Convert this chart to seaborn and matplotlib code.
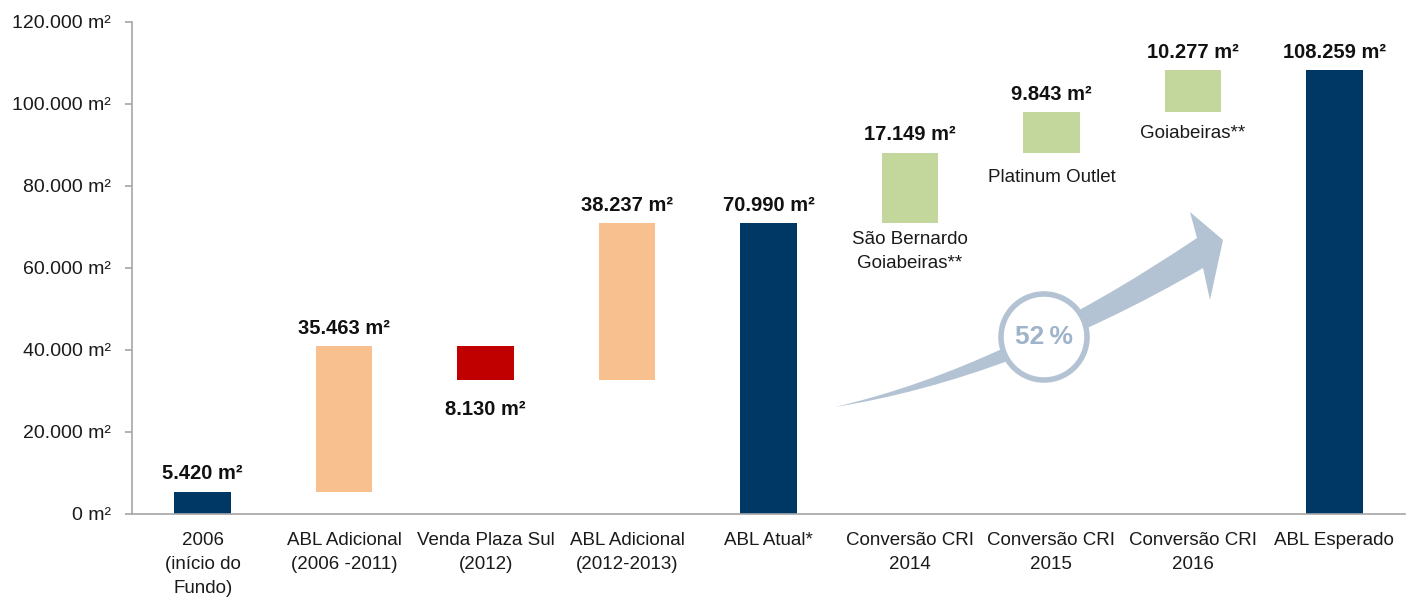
import numpy as np
import pandas as pd
import matplotlib.pyplot as plt
import seaborn as sns
from matplotlib.path import Path
from matplotlib.patches import PathPatch, Ellipse

# Data
categories = ["2006\n(início do\nFundo)", "ABL Adicional\n(2006 -2011)", "Venda Plaza Sul\n(2012)",
              "ABL Adicional\n(2012-2013)", "ABL Atual*", "Conversão CRI\n2014",
              "Conversão CRI\n2015", "Conversão CRI\n2016", "ABL Esperado"]
changes = [5420, 35463, -8130, 38237, 70990, 17149, 9843, 10277, 108259]
is_total = [True, False, False, False, True, False, False, False, True]
value_labels = ["5.420 m²", "35.463 m²", "8.130 m²", "38.237 m²", "70.990 m²",
                "17.149 m²", "9.843 m²", "10.277 m²", "108.259 m²"]
notes = {5: "São Bernardo\nGoiabeiras**", 6: "Platinum Outlet", 7: "Goiabeiras**"}
yticks = [0, 20000, 40000, 60000, 80000, 100000, 120000]
ytick_labels = ["0 m²", "20.000 m²", "40.000 m²", "60.000 m²", "80.000 m²", "100.000 m²", "120.000 m²"]

navy, peach, red, green = "#003865", "#F9C08F", "#C00000", "#C3D69B"
arrow_col = "#B3C3D3"

# waterfall bottoms / heights
bottoms, heights, running = [], [], 0
for c, tot in zip(changes, is_total):
    if tot:
        bottoms.append(0); heights.append(c); running = c
    elif c >= 0:
        bottoms.append(running); heights.append(c); running += c
    else:
        running += c
        bottoms.append(running); heights.append(-c)

colors = []
for i, (c, tot) in enumerate(zip(changes, is_total)):
    if tot:
        colors.append(navy)
    elif c < 0:
        colors.append(red)
    elif i < 4:
        colors.append(peach)
    else:
        colors.append(green)

df = pd.DataFrame({"cat": categories, "height": heights, "bottom": bottoms})

sns.set_style("white")
plt.rcParams["font.family"] = ["Liberation Sans", "DejaVu Sans"]

fig = plt.figure(figsize=(14.16, 6.01), dpi=100)
ax = fig.add_axes([132 / 1416, 1 - 514 / 601, (1405 - 132) / 1416, (514 - 22) / 601])

sns.barplot(data=df, x="cat", y="height", bottom=df["bottom"].values, order=categories,
            width=0.4, color=navy, ax=ax, errorbar=None, linewidth=0)
for p, col in zip(ax.patches, colors):
    p.set_facecolor(col)

ax.set_ylim(0, 120000)
ax.set_xlim(-0.5, len(categories) - 0.5)
ax.set_yticks(yticks)
ax.set_yticklabels(ytick_labels, fontsize=14, color="#1a1a1a")
ax.set_xticks(range(len(categories)))
ax.set_xticklabels(categories, fontsize=13.5, color="#1a1a1a", linespacing=1.55)
ax.set_xticks(np.arange(-0.5, len(categories)), minor=True)
ax.tick_params(axis="x", which="major", length=0, pad=13)
ax.tick_params(axis="x", which="minor", length=6, color="#A6A6A6", width=1.2)
ax.tick_params(axis="y", length=5, color="#A6A6A6", width=1.2, pad=10, left=True)
ax.set_xlabel("")
ax.set_ylabel("")
for s in ["top", "right"]:
    ax.spines[s].set_visible(False)
for s in ["left", "bottom"]:
    ax.spines[s].set_color("#A6A6A6")
    ax.spines[s].set_linewidth(1.2)

# value labels
for i, (b, h, lab) in enumerate(zip(bottoms, heights, value_labels)):
    if changes[i] < 0:
        ax.text(i, b - 5000, lab, ha="center", va="top", fontsize=14.5, fontweight="bold", color="#111111")
    else:
        ax.text(i, b + h + 3000, lab, ha="center", va="baseline", fontsize=14.5, fontweight="bold",
                color="#111111")
note_offsets = {5: 2000, 6: 4000, 7: 3000}
for i, txt in notes.items():
    ax.text(i, bottoms[i] - note_offsets[i], txt, ha="center", va="top", fontsize=13.5,
            color="#1a1a1a", linespacing=1.5)

# decorative growth arrow (figure pixel coords)
def fp(x, y):
    return (x / 1416, 1 - y / 601)

verts = [fp(835, 407), fp(1004, 368), fp(1197, 238),
         fp(1190, 212), fp(1223, 240), fp(1210, 300), fp(1203, 268),
         fp(1011, 379), fp(835, 407), fp(835, 407)]
codes = [Path.MOVETO, Path.CURVE3, Path.CURVE3,
         Path.LINETO, Path.LINETO, Path.LINETO, Path.LINETO,
         Path.CURVE3, Path.CURVE3, Path.CLOSEPOLY]
fig.patches.append(PathPatch(Path(verts, codes), facecolor=arrow_col, edgecolor="none",
                             transform=fig.transFigure, zorder=3))
cx, cy = fp(1044, 337)
fig.patches.append(Ellipse((cx, cy), 86 / 1416, 86 / 601, facecolor="white", edgecolor=arrow_col,
                           linewidth=4, transform=fig.transFigure, zorder=4))
fig.text(cx, cy, "52\u2009%", ha="center", va="center", fontsize=19, fontweight="bold",
         color="#9FB3CA", zorder=5, family=["Liberation Sans", "DejaVu Sans"])

fig.savefig("out.png", dpi=100)
